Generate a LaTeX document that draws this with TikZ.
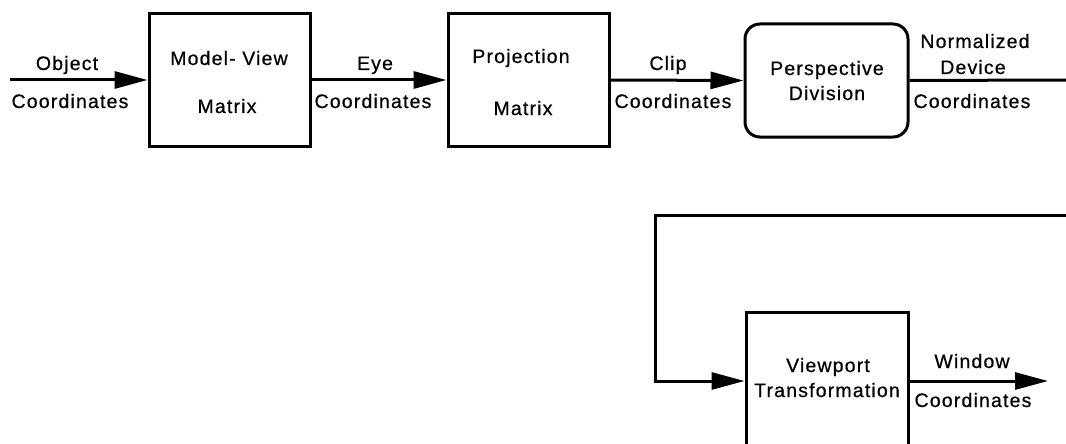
\documentclass[tikz,border=0pt]{standalone}
\usepackage{fontspec}
\setmainfont{Liberation Sans}[LetterSpace=6,FakeBold=0.6]
\usetikzlibrary{arrows.meta}
\begin{document}
\begin{tikzpicture}[x=1pt,y=-1pt,
  box/.style={draw,line width=3pt,inner sep=0pt,minimum width=161pt},
  txt/.style={anchor=base,inner sep=0pt,font=\fontsize{19.5}{23}\selectfont},
  conn/.style={line width=3pt},
  arr/.style={conn,-{Triangle[length=33pt,width=17pt]}}]
\clip (0,0) rectangle (1066,444);
\fill[white] (0,0) rectangle (1066,444);
% boxes
\node[box,minimum height=132pt] (mv) at (229.5,80) {};
\node[box,minimum height=132pt] (pr) at (528.5,80) {};
\node[box,minimum height=113pt,minimum width=163pt,rounded corners=15pt] (pd) at (826.5,80.5) {};
\node[box,minimum height=138pt,minimum width=162pt] (vp) at (827,381) {};
% box texts
\node[txt] (mv1) at (229,65) {Model- View};
\node[txt] (mv2) at (227,113) {Matrix};
\node[txt] (pr1) at (521,63) {Projection};
\node[txt] (pr2) at (523,115) {Matrix};
\node[txt] (pd1) at (827,75) {Perspective};
\node[txt] (pd2) at (827,100) {Division};
\node[txt] (vp1) at (828,372) {Viewport};
\node[txt] (vp2) at (827,397) {Transformation};
% connector labels
\node[txt] (l1a) at (67,70) {Object};
\node[txt] (l1b) at (70,108) {Coordinates};
\node[txt] (l2a) at (375,70) {Eye};
\node[txt] (l2b) at (373,108) {Coordinates};
\node[txt] (l3a) at (668,70) {Clip};
\node[txt] (l3b) at (673,108) {Coordinates};
\node[txt] (l4a) at (975,48) {Normalized};
\node[txt] (l4b) at (973,74) {Device};
\node[txt] (l4c) at (972,108) {Coordinates};
\node[txt] (l5a) at (972,368) {Window};
\node[txt] (l5b) at (973,407) {Coordinates};
% coordinates
\coordinate (in) at (10,80);
\coordinate (ndc) at (1066,80);
\coordinate (r2) at (1066,215);
\coordinate (lc) at (655,215);
\coordinate (out) at (1048,381);
% connectors
\draw[arr] (in) -- (mv.west);
\draw[arr] (mv.east) -- (pr.west);
\draw[arr] (pr.east) -- (pd.west);
\draw[conn] (pd.east) -- (ndc);
\draw[arr] (r2) -- (lc) |- (vp.west);
\draw[arr] (vp.east) -- (out);
\end{tikzpicture}
\end{document}
